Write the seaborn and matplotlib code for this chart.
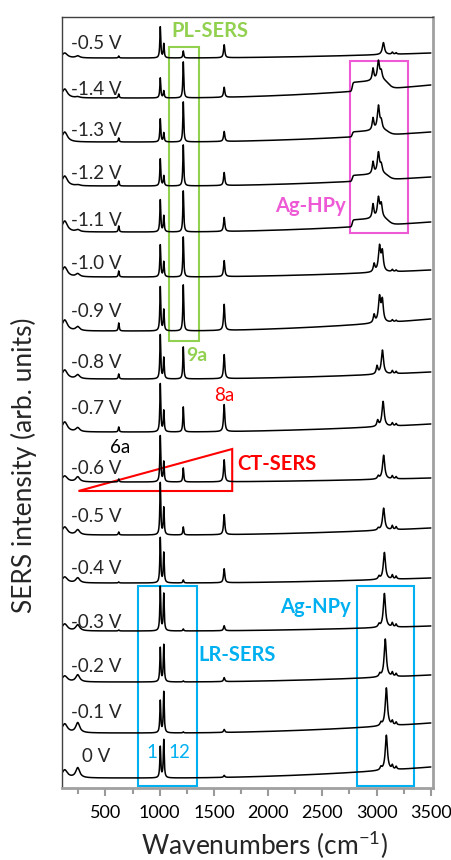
import numpy as np
import pandas as pd
import matplotlib
matplotlib.use('Agg')
import matplotlib.pyplot as plt
import seaborn as sns
from matplotlib.patches import Rectangle, Polygon
from matplotlib.ticker import MultipleLocator

# one row per spectrum, top to bottom
potentials = ['-0.5 V', '-1.4 V', '-1.3 V', '-1.2 V', '-1.1 V', '-1.0 V', '-0.9 V', '-0.8 V',
              '-0.7 V', '-0.6 V', '-0.5 V', '-0.4 V', '-0.3 V', '-0.2 V', '-0.1 V', '0 V']
offsets = [730, 690, 646, 602, 556, 511, 457, 409, 356, 306, 253, 205, 157, 106, 55, 10]
rise = [5, 13, 10, 9, 10, 7, 12, 7, 8, 4, 7, 5, 5, 7, 10, 11]
edge_h = [5, 9, 10, 10, 11, 10, 11, 9, 10, 6, 8, 6, 7, 6, 9, 8]
bump_h = [2, 1, 0, 1, 2, 3, 4, 4, 4, 5, 5, 5, 6, 7, 10, 10]
h_623 = [2, 4, 4, 5, 6, 6, 8, 5, 5, 3, 3, 1, 1, 0, 0, 0]
h_1006 = [31, 20, 23, 27, 32, 32, 44, 44, 48, 46, 52, 45, 44, 34, 32, 31]
h_1038 = [14, 7, 9, 10, 16, 15, 21, 21, 21, 20, 27, 30, 37, 37, 41, 38]
h_1218 = [7, 36, 40, 41, 41, 40, 46, 32, 25, 14, 8, 3, 2, 1, 1, 0]
h_1595 = [13, 10, 10, 13, 14, 16, 26, 24, 27, 22, 20, 14, 5, 4, 3, 2]
ch_pos = [3063, 3017, 3017, 3017, 3017, 3027, 3027, 3054, 3060, 3065, 3065, 3072, 3072, 3080, 3090, 3090]
ch_main = [12, 19, 24, 21, 20, 25, 25, 24, 25, 24, 22, 27, 34, 38, 38, 35]
ch_low = [0, 12, 12, 12, 14, 8, 8, 8, 6, 3, 2, 3, 3, 3, 3, 3]
ch_high = [0, 8, 8, 8, 13, 19, 21, 0, 0, 0, 0, 0, 0, 0, 0, 0]
ch_sat = [2, 0, 0, 0, 0, 2, 2, 3, 3, 3, 4, 4, 4, 4, 4, 4]
hpy_band = [0, 9, 5, 6, 7, 0, 0, 0, 0, 0, 0, 0, 0, 0, 0, 0]

label_y = [745, 699, 658, 615, 568, 525, 477, 426, 380, 320, 271, 219, 166, 121, 75, 32]

wn = np.arange(105, 3501, 1.0)


def lor(x0, h, w):
    return h / (1 + ((wn - x0) / w) ** 2)


frames = []
for i in range(len(potentials)):
    y = offsets[i] + rise[i] * np.clip((wn - 1000) / 2500, 0, None) ** 2
    y = y + lor(125, edge_h[i], 30) + lor(245, bump_h[i], 22) + lor(623, h_623[i], 5)
    y = y + lor(1006, h_1006[i], 5) + lor(1038, h_1038[i], 5)
    y = y + lor(1218, h_1218[i], 5) + lor(1595, h_1595[i], 7)
    band = hpy_band[i] / (1 + np.exp(-(wn - 2775) / 4)) / (1 + np.exp((wn - 3110) / 20))
    y = y + band + lor(ch_pos[i], ch_main[i], 12) + lor(ch_pos[i] - 50, ch_low[i], 9)
    y = y + lor(ch_pos[i] + 26, ch_high[i], 11)
    y = y + lor(3145, ch_sat[i], 7) + lor(3180, 0.7 * ch_sat[i], 7)
    frames.append(pd.DataFrame({'wn': wn, 'y': y, 'trace': i}))
df = pd.concat(frames, ignore_index=True)

sns.set_style('ticks')
plt.rcParams['font.family'] = ['Lato', 'DejaVu Sans']
plt.rcParams['mathtext.default'] = 'regular'

fig = plt.figure(figsize=(4.52, 8.6), dpi=100)
ax = fig.add_axes([62 / 452, (860 - 788) / 860, 371 / 452, 771 / 860])

sns.lineplot(data=df, x='wn', y='y', units='trace', estimator=None, sort=False,
             color='black', lw=1.1, ax=ax, legend=False)

ax.set_xlim(100, 3520)
ax.set_ylim(0, 771)
ax.set_yticks([])
ax.xaxis.set_major_locator(MultipleLocator(500))
ax.xaxis.set_minor_locator(MultipleLocator(250))
ax.set_xticks(range(500, 3501, 500))
ax.tick_params(axis='x', which='major', length=6, width=1.5, color='#9a9a9a',
               labelsize=13, pad=6, labelcolor='black')
ax.tick_params(axis='x', which='minor', length=4, width=1.5, color='#9a9a9a')

for s in ['top', 'left']:
    ax.spines[s].set_color('#404040')
    ax.spines[s].set_linewidth(1.0)
for s in ['right', 'bottom']:
    ax.spines[s].set_color('#a0a0a0')
    ax.spines[s].set_linewidth(2.0)

ax.set_xlabel('Wavenumbers (cm$^{-1}$)', fontsize=19)
ax.xaxis.set_label_coords((264 - 62) / 371, (788 - 845) / 771)
ax.xaxis.label.set_va('center')
ax.set_ylabel('SERS intensity (arb. units)', fontsize=19)
ax.yaxis.set_label_coords((24 - 62) / 371, (788 - 465) / 771)
ax.yaxis.label.set_va('center')

for name, ly in zip(potentials, label_y):
    ax.text(418, ly, name, fontsize=13.5, ha='center', va='center')

green = '#92D050'
pink = '#EE5AD6'
red = '#FF0000'
blue = '#00B0F0'

ax.add_patch(Rectangle((1089, 447), 276, 294, fill=False, ec=green, lw=1.5))
ax.text(1466, 757, 'PL-SERS', color=green, fontsize=14.5, fontweight='bold', ha='center', va='center')
ax.text(1346, 433, '9a', color=green, fontsize=14, fontweight='bold', ha='center', va='center')

ax.add_patch(Rectangle((2755, 555), 534, 172, fill=False, ec=pink, lw=1.5))
ax.text(2395, 582, 'Ag-HPy', color=pink, fontsize=14.5, fontweight='bold', ha='center', va='center')

ax.text(1595, 393, '8a', color=red, fontsize=13.5, ha='center', va='center')
ax.text(638, 341, '6a', color='black', fontsize=13.5, ha='center', va='center')
ax.add_patch(Polygon([(252, 297), (1669, 339), (1669, 297)], closed=True, fill=False, ec=red, lw=1.5))
ax.text(1715, 324, 'CT-SERS', color=red, fontsize=14.5, fontweight='bold', ha='left', va='center')

ax.add_patch(Rectangle((805, 2), 542, 200, fill=False, ec=blue, lw=1.5))
ax.add_patch(Rectangle((2819, 2), 525, 200, fill=False, ec=blue, lw=1.5))
ax.text(2440, 181, 'Ag-NPy', color=blue, fontsize=14.5, fontweight='bold', ha='center', va='center')
ax.text(1712, 133, 'LR-SERS', color=blue, fontsize=14.5, fontweight='bold', ha='center', va='center')
ax.text(932, 35, '1', color=blue, fontsize=13.5, ha='center', va='center')
ax.text(1181, 35, '12', color=blue, fontsize=13.5, ha='center', va='center')

fig.savefig('out.png', dpi=100)
